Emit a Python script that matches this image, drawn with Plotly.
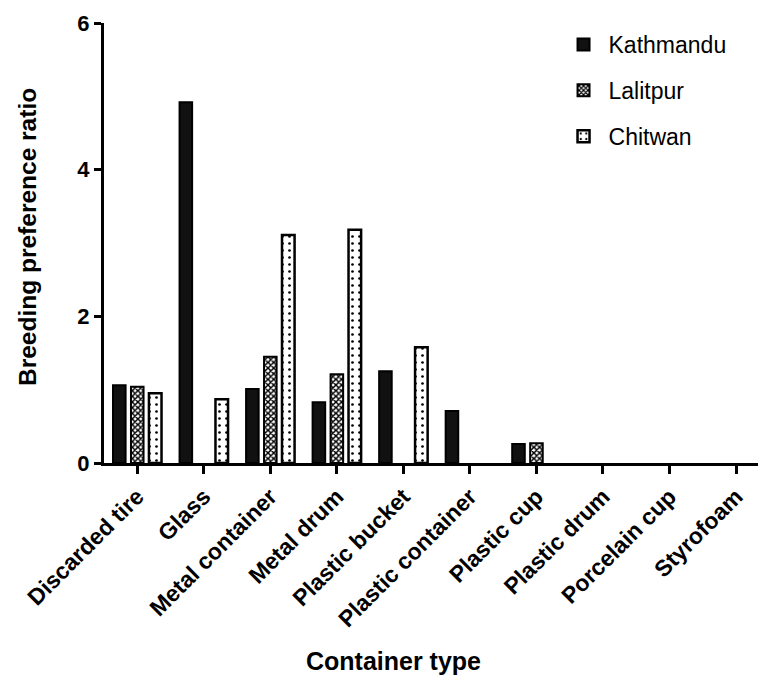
import plotly.graph_objects as go

# Container categories and breeding preference ratio per district
categories = ["Discarded tire", "Glass", "Metal container", "Metal drum",
              "Plastic bucket", "Plastic container", "Plastic cup",
              "Plastic drum", "Porcelain cup", "Styrofoam"]
kathmandu = [1.06, 4.92, 1.01, 0.83, 1.25, 0.71, 0.26, 0, 0, 0]
lalitpur = [1.04, 0, 1.45, 1.21, 0, 0, 0.27, 0, 0, 0]
chitwan = [0.95, 0.87, 3.11, 3.18, 1.58, 0, 0, 0, 0, 0]
y_ticks = [0, 2, 4, 6]

FONT = "Liberation Sans, Arial, sans-serif"


def outline(values, width):
    # no outline on empty bars so nothing sits on the baseline
    return [width if v > 0 else 0 for v in values]


fig = go.Figure()

fig.add_trace(go.Bar(
    name="Kathmandu", x=categories, y=kathmandu,
    marker=dict(color="#111111",
                line=dict(color="#000000", width=outline(kathmandu, 2))),
    legendgroup="k",
))
fig.add_trace(go.Bar(
    name="Lalitpur", x=categories, y=lalitpur,
    marker=dict(color="#ffffff",
                line=dict(color="#000000", width=outline(lalitpur, 2)),
                pattern=dict(shape="x", size=4, solidity=0.6,
                             fgcolor="#000000", bgcolor="#ffffff",
                             fillmode="replace")),
    legendgroup="l",
))
fig.add_trace(go.Bar(
    name="Chitwan", x=categories, y=chitwan,
    marker=dict(color="#ffffff",
                line=dict(color="#000000", width=outline(chitwan, 2.5)),
                pattern=dict(shape=".", size=7, solidity=0.12,
                             fgcolor="#000000", bgcolor="#ffffff",
                             fillmode="replace")),
    legendgroup="c",
))

fig.update_layout(
    width=758, height=676,
    margin=dict(l=104, r=0, t=23, b=213),
    paper_bgcolor="white", plot_bgcolor="white",
    barmode="group", bargap=0.19, bargroupgap=0.3,
    font=dict(family=FONT, color="#000000"),
    showlegend=True,
    legend=dict(x=0.695, xanchor="left", y=1.0, yanchor="top",
                font=dict(size=23, family=FONT, color="#000000"),
                traceorder="grouped", tracegroupgap=13,
                bgcolor="rgba(0,0,0,0)", itemwidth=40),
    xaxis=dict(
        range=[-0.5, 9.33], showgrid=False, zeroline=False,
        showline=True, linecolor="#000000", linewidth=3,
        ticks="outside", ticklen=8, tickwidth=3, tickcolor="#000000",
        tickangle=-45,
        tickfont=dict(size=23, family=FONT, color="#000000", weight="bold"),
    ),
    yaxis=dict(
        range=[0, 6], tickvals=y_ticks, ticktext=[str(v) for v in y_ticks],
        showgrid=False, zeroline=False,
        showline=True, linecolor="#000000", linewidth=3,
        ticks="outside", ticklen=7, tickwidth=3, tickcolor="#000000",
        tickfont=dict(size=22, family=FONT, color="#000000", weight="bold"),
    ),
    annotations=[
        dict(text="<b>Container type</b>", xref="paper", yref="paper",
             x=(393 - 104) / 654, y=(463 - 661) / 440, xanchor="center",
             yanchor="middle", showarrow=False,
             font=dict(size=25, family=FONT, color="#000000")),
        dict(text="<b>Breeding preference ratio</b>", xref="paper", yref="paper",
             x=(27 - 104) / 654, y=(463 - 237) / 440, xanchor="center",
             yanchor="middle", textangle=-90, showarrow=False,
             font=dict(size=24.5, family=FONT, color="#000000")),
    ],
)

fig.write_html("out.html")
